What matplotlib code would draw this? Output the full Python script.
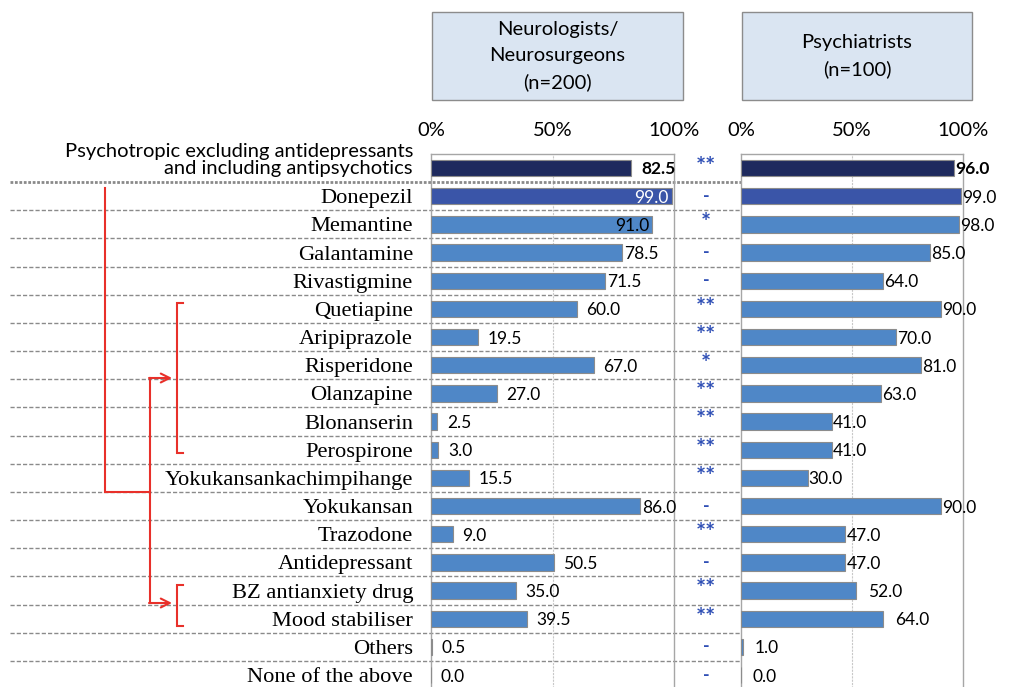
"""Prescription rates by specialty: neurologists vs psychiatrists."""
import matplotlib
matplotlib.use("Agg")
import matplotlib.pyplot as plt
from matplotlib.patches import Rectangle

# ── Data ───────────────────────────────────────────────────────────────────
drugs = [
    "Psychotropic excluding antidepressants\nand including antipsychotics",
    "Donepezil", "Memantine", "Galantamine", "Rivastigmine", "Quetiapine",
    "Aripiprazole", "Risperidone", "Olanzapine", "Blonanserin", "Perospirone",
    "Yokukansankachimpihange", "Yokukansan", "Trazodone", "Antidepressant",
    "BZ antianxiety drug", "Mood stabiliser", "Others", "None of the above",
]
neuro = [82.5, 99.0, 91.0, 78.5, 71.5, 60.0, 19.5, 67.0, 27.0, 2.5, 3.0,
         15.5, 86.0, 9.0, 50.5, 35.0, 39.5, 0.5, 0.0]
psych = [96.0, 99.0, 98.0, 85.0, 64.0, 90.0, 70.0, 81.0, 63.0, 41.0, 41.0,
         30.0, 90.0, 47.0, 47.0, 52.0, 64.0, 1.0, 0.0]
sig = ["**", "-", "*", "-", "-", "**", "**", "*", "**", "**", "**", "**",
       "-", "**", "-", "**", "**", "-", "-"]
panel_titles = ["Neurologists/\nNeurosurgeons\n(n=200)", "Psychiatrists\n(n=100)"]
xticks = [0, 50, 100]
xticklabels = ["0%", "50%", "100%"]

# ── Palette / geometry ─────────────────────────────────────────────────────
NAVY = "#1e2a5e"
DARK = "#3a55a8"
BLUE = "#4f87c7"
SIGC = "#2f4fb5"
RED = "#e8302a"
GRID = "#a6a6a6"
SANS = "Lato"
SERIF = "Liberation Serif"

W, H = 1010, 687
ROW0, ROWH = 168, 28.17
n = len(drugs)
top_px = ROW0 - ROWH / 2
h_px = n * ROWH

fig = plt.figure(figsize=(W / 100, H / 100), dpi=100)
fig.patch.set_facecolor("white")


def panel(x0, w):
    return fig.add_axes([x0 / W, 1 - (top_px + h_px) / H, w / W, h_px / H])


ax1 = panel(431, 243)
ax2 = panel(741, 222)

bar_colors = [NAVY, DARK] + [BLUE] * (n - 2)

for k, (ax, vals) in enumerate([(ax1, neuro), (ax2, psych)]):
    ax.barh(range(n), vals, height=0.58, color=bar_colors,
            edgecolor="#8c8c8c", linewidth=0.8, zorder=3)
    ax.set_xlim(0, 100)
    ax.set_ylim(n - 0.5, -0.5)
    ax.xaxis.tick_top()
    ax.set_xticks(xticks)
    ax.set_xticklabels(xticklabels, fontsize=14.5, fontfamily=SANS)
    ax.tick_params(axis="x", length=0, pad=11)
    ax.set_yticks([])
    ax.axvline(50, color="#c8c8c8", lw=0.8, ls=(0, (2, 1)), zorder=1)
    for s in ["left", "right", "top"]:
        ax.spines[s].set_color(GRID)
        ax.spines[s].set_linewidth(1.0)
    ax.spines["bottom"].set_visible(False)

    for i, v in enumerate(vals):
        bold = "bold" if i == 0 else "normal"
        if k == 0 and v >= 90 and i > 0:
            col = "white" if bar_colors[i] == DARK else "black"
            ax.annotate(f"{v:.1f}", xy=(v, i), xytext=(-2, 0),
                        textcoords="offset points", ha="right",
                        va="center_baseline", fontsize=12.5, fontfamily=SANS,
                        color=col, zorder=4)
            continue
        if k == 0:
            gap = 1.5 if (v >= 70 and i > 0) else 7
        else:
            gap = 8.5 if i >= 15 else 0.8
        ax.annotate(f"{v:.1f}", xy=(v, i), xytext=(gap, 0),
                    textcoords="offset points", ha="left",
                    va="center_baseline", fontsize=12.5, fontfamily=SANS,
                    fontweight=bold, color="black", zorder=4)

# ── Category labels, separators and significance markers ──────────────────
ytr = ax1.get_yaxis_transform()
for i, name in enumerate(drugs):
    if i == 0:
        ax1.text(-18 / 243, i - 0.27, name, transform=ytr, ha="right",
                 va="center", fontsize=14.5, fontfamily=SANS,
                 linespacing=1.0, multialignment="right")
    else:
        ax1.text(-18 / 243, i, name, transform=ytr, ha="right",
                 va="center_baseline", fontsize=16.2, fontfamily=SERIF)
    mark = sig[i]
    if "*" in mark:
        ax1.text((706 - 431) / 243, i - 0.02, mark, transform=ytr,
                 ha="center", va="center", fontsize=17, fontweight="bold",
                 color=SIGC, fontfamily=SANS)
    else:
        ax1.text((706 - 431) / 243, i, mark, transform=ytr, ha="center",
                 va="center", fontsize=13, fontweight="bold", color=SIGC,
                 fontfamily=SANS)

for i in range(n - 1):
    ax1.plot([(10 - 431) / 243, (963 - 431) / 243], [i + 0.5, i + 0.5],
             transform=ytr, clip_on=False, color="#8a8a8a",
             lw=2.0 if i == 0 else 1.0,
             ls=(0, (1, 0.6)) if i == 0 else (0, (3, 1.5)), zorder=2)

# ── Overlay: header boxes and red brackets (pixel coordinates) ────────────
ov = fig.add_axes([0, 0, 1, 1])
ov.set_xlim(0, W)
ov.set_ylim(H, 0)
ov.axis("off")
ov.patch.set_alpha(0)

for (x0, x1), title in zip([(432, 683), (742, 972)], panel_titles):
    ov.add_patch(Rectangle((x0, 12), x1 - x0, 88, facecolor="#dae5f2",
                           edgecolor="#8c8c8c", linewidth=1.0))
    ov.text((x0 + x1) / 2, 56, title, ha="center", va="center",
            fontsize=14.5, fontfamily=SANS, linespacing=1.65)

lkw = dict(color=RED, lw=1.5, solid_joinstyle="miter")
ov.plot([105, 105, 150], [188, 492, 492], **lkw)
ov.plot([150, 150], [378, 603], **lkw)
ov.plot([183, 177, 177, 183], [303, 303, 453, 453], **lkw)
ov.plot([183, 177, 177, 183], [585, 585, 626, 626], **lkw)
for yy in (378, 603):
    ov.annotate("", xy=(172, yy), xytext=(149, yy),
                arrowprops=dict(arrowstyle="->", color=RED, lw=1.5,
                                mutation_scale=16, shrinkA=0, shrinkB=0))

fig.savefig("out.png", dpi=100, facecolor="white")
plt.close(fig)
